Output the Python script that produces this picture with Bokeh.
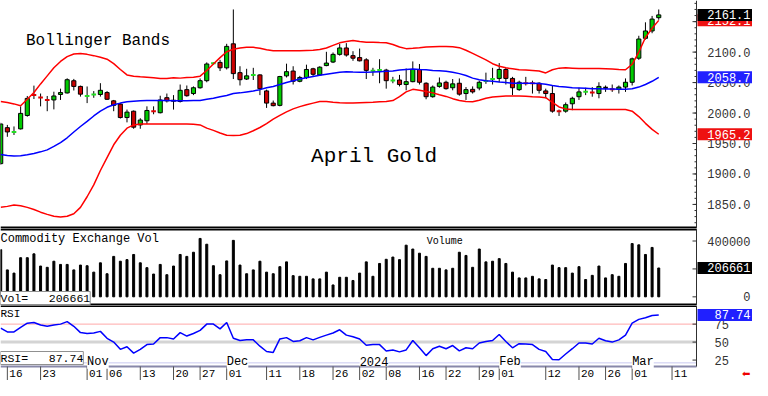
import pandas as pd
from bokeh.plotting import figure
from bokeh.layouts import column
from bokeh.models import Range1d, Label, ColumnDataSource
from bokeh.embed import file_html
from bokeh.resources import INLINE
from bokeh.core.properties import value

# ---------------- data ----------------
closed_days = ["2023-11-23", "2023-12-25", "2024-01-01", "2024-01-15", "2024-02-19"]
calendar = [d for d in pd.bdate_range("2023-10-13", "2024-03-15")
            if d.strftime("%Y-%m-%d") not in closed_days]
cal_idx = {d.strftime("%Y-%m-%d"): k for k, d in enumerate(calendar)}

opens = [1917, 1976, 1968, 1974, 1996, 2030, 2026, 2022, 2021.5, 2030.5,
         2033, 2053, 2043.7, 2027.5, 2030, 2030.5, 2033.6, 2020, 2014.7, 1992.6,
         2003, 1980.5, 1987.3, 2003.5, 2000.5, 2025.2, 2020, 2019, 2038.4, 2032,
         2041.5, 2053.1, 2081, 2083.1, 2074.2, 2113.6, 2066.3, 2055.8, 2062, 2062.6,
         2036.3, 2016.3, 2012.6, 2061, 2068.9, 2052.1, 2058.4, 2072.6, 2062.6, 2077.9,
         2083.7, 2096.3, 2106.8, 2094.2, 2091, 2087.3, 2068.9, 2070, 2070.5, 2053,
         2054.2, 2046.8, 2051.5, 2071.5, 2048.9, 2026.8, 2043.7, 2050.5, 2041.5, 2048.9,
         2032, 2038.9, 2041, 2052, 2055.5, 2056.8, 2071.5, 2056.8, 2038.4, 2049.5,
         2049.5, 2048.9, 2036.3, 2032, 2003.6, 2003.1, 2015.2, 2026.8, 2034.5, 2034,
         2032, 2041.5, 2039.5, 2038.9, 2042.6, 2050.5, 2090, 2122.6, 2134.7, 2156.5]
highs = [1984, 1980.5, 1978, 2011, 2028, 2045, 2032, 2028, 2035, 2040,
         2057, 2056, 2045, 2043.6, 2036, 2049, 2036, 2021.5, 2016.3, 2005.7,
         2004.2, 1991.5, 2011, 2011, 2028.4, 2032, 2029.4, 2046.8, 2045.2, 2043.7,
         2056.8, 2083.1, 2083, 2087.3, 2113.6, 2170, 2076.8, 2072.6, 2074.2, 2063.6,
         2038.4, 2020.5, 2061, 2081, 2076.8, 2061, 2079.4, 2074.2, 2076.8, 2100.5,
         2099.4, 2113.6, 2114.7, 2101.5, 2105.8, 2090, 2074.2, 2088.4, 2072.6, 2059.4,
         2062.6, 2073.1, 2084.7, 2080.5, 2050.5, 2045.2, 2058.4, 2053.1, 2055.8, 2056.8,
         2042.6, 2043.7, 2053.1, 2066.3, 2074.2, 2082, 2074.2, 2059.4, 2053.1, 2059.4,
         2053.1, 2050.5, 2040, 2045.2, 2005.7, 2017.3, 2026.8, 2041.5, 2041.5, 2042.6,
         2050.5, 2045.2, 2046.8, 2045.2, 2056.8, 2091, 2126.8, 2148.9, 2159.4, 2170]
lows = [1915, 1961, 1964, 1973, 1994, 2023, 2011, 2003, 2006, 2021.5,
        2032, 2037, 2027, 2016.3, 2025, 2027, 2021.5, 2003, 1991, 1984.7,
        1974.2, 1974.2, 1982, 1998, 1999.4, 2017.3, 2005.7, 2017.3, 2026.8, 2029.4,
        2040, 2050.5, 2080, 2068.9, 2071.5, 2055.8, 2045.2, 2054.2, 2054.2, 2029.4,
        2008.4, 2011, 2011, 2058.4, 2046.8, 2050.5, 2055.8, 2061, 2061, 2076.8,
        2082, 2094.2, 2092.6, 2085.7, 2084.7, 2055.8, 2061, 2048.9, 2040, 2048.9,
        2043.7, 2037.3, 2050.5, 2046.8, 2022.6, 2025.2, 2041.5, 2038.4, 2037.3, 2028.4,
        2021.5, 2032, 2037.3, 2047.9, 2046.8, 2050.5, 2046.8, 2029.4, 2036.3, 2045.2,
        2032, 2032, 2024.2, 2000.5, 1995.2, 2000.5, 2004.7, 2021.5, 2029.4, 2026.8,
        2024.2, 2034.7, 2034.7, 2032, 2034.7, 2045.2, 2087.3, 2120.5, 2131, 2153.1]
closes = [1982, 1969, 1969, 1999.4, 2024, 2029.5, 2025.3, 2021.3, 2028, 2033.6,
          2054.7, 2043.7, 2031, 2028, 2030.5, 2037.3, 2022.6, 2012.6, 1992.6, 2001.5,
          1976.8, 1988.5, 2004.2, 2003, 2021.5, 2020, 2020, 2037.3, 2028.4, 2041.5,
          2053.1, 2080.5, 2081.8, 2074.2, 2109.4, 2064.7, 2054.7, 2061, 2062.5, 2040,
          2016.3, 2012.1, 2059.9, 2067.9, 2052.1, 2058.4, 2071.5, 2063.6, 2075.2, 2082,
          2096.3, 2106.8, 2095.2, 2090, 2085.7, 2070, 2069.4, 2070.5, 2053.1, 2053.4,
          2046.8, 2051.5, 2071.5, 2050.5, 2026.8, 2042.6, 2049.4, 2040, 2047.9, 2031,
          2038.4, 2034.7, 2050.5, 2052.4, 2055.9, 2071.5, 2056.8, 2041.5, 2050.5, 2049,
          2049, 2037.3, 2032, 2003.1, 2003.1, 2013.7, 2024.2, 2034.7, 2034.9, 2033.6,
          2043.7, 2041.5, 2039, 2042.6, 2050.5, 2088.9, 2121.5, 2134.7, 2154.2, 2161.1]
upper_band = [2018.9, 2017.3, 2015, 2012, 2022.5, 2033.6, 2047.8, 2061, 2074.2, 2084.7,
              2092.6, 2096.8, 2097.9, 2096.3, 2094.2, 2091.5, 2088.4, 2081, 2071.5, 2062.6,
              2060.5, 2059.5, 2058.9, 2057.9, 2056.8, 2056.8, 2057.9, 2057.3, 2058.4, 2058.9,
              2060.5, 2069.9, 2080.5, 2091, 2100.5, 2104.7, 2106.8, 2107.8, 2107.8, 2106.3,
              2103.7, 2102.1, 2102.1, 2102.1, 2102.1, 2102.1, 2102.6, 2103.1, 2104.2, 2106.8,
              2111, 2115.2, 2117.3, 2118.9, 2117.3, 2116.3, 2116.3, 2115.7, 2115.2, 2112.6,
              2108.4, 2105.7, 2106.3, 2107.3, 2108.4, 2108.9, 2109.4, 2109.4, 2108.9, 2107.3,
              2103.1, 2097.9, 2092.6, 2087.3, 2081, 2076.8, 2074.2, 2072.6, 2071, 2070.5,
              2069.9, 2068.9, 2065.8, 2071, 2073.7, 2074.2, 2073.7, 2073.1, 2073.1, 2073.1,
              2073.1, 2072.6, 2072.1, 2071.5, 2071, 2080, 2100, 2124, 2139, 2152.1]
middle_band = [1932, 1930.5, 1929.4, 1930, 1931.6, 1933.6, 1936.3, 1939.5, 1945.2, 1951.5,
               1959.4, 1968.9, 1977.9, 1986.3, 1995.2, 2003.1, 2009.4, 2013.7, 2016.3, 2018.4,
               2019.4, 2020, 2020.5, 2020.5, 2020.5, 2020.5, 2020.3, 2020, 2020, 2020.5,
               2020.5, 2022.6, 2024.2, 2026.8, 2028.9, 2032, 2033.1, 2034.7, 2036.3, 2038.4,
               2041.5, 2043.7, 2046.8, 2050, 2053.1, 2055.7, 2057.9, 2060, 2062, 2063.6,
               2065.2, 2066.8, 2067.9, 2067.4, 2067, 2067, 2067.4, 2067.9, 2068.4, 2068.9,
               2070.5, 2071.5, 2072.1, 2071.5, 2071, 2069.9, 2069.4, 2068.4, 2066.8, 2064.7,
               2061.5, 2057.3, 2054.7, 2053.1, 2052.1, 2051, 2050, 2048.9, 2048.9, 2048.9,
               2048.7, 2048.4, 2047.3, 2045.2, 2043.7, 2042.6, 2041.5, 2041, 2040.5, 2039.9,
               2039.9, 2039.4, 2039.4, 2038.9, 2038.9, 2039.9, 2042.6, 2046.8, 2052.1, 2058.7]
lower_band = [1845.2, 1846.8, 1848.9, 1847.9, 1845.2, 1841.6, 1837.3, 1833.7, 1830.5, 1829.4,
              1830.5, 1834.7, 1845.2, 1862.6, 1882, 1905.7, 1926.8, 1947.9, 1963.6, 1975.2,
              1980.5, 1982.1, 1982.1, 1982.1, 1982.1, 1982.1, 1982.1, 1982.1, 1982.1, 1981.6,
              1980.5, 1975.2, 1971.5, 1967.3, 1963.6, 1963.1, 1963.6, 1966.3, 1971, 1976.3,
              1982.6, 1990, 1996.3, 2002, 2006.8, 2010.5, 2013.7, 2016.3, 2018.9, 2018.9,
              2017.8, 2016.8, 2016.3, 2016.3, 2016.8, 2017.3, 2017.8, 2018.4, 2018.9, 2020.5,
              2026.8, 2034.7, 2038.9, 2037.3, 2035.2, 2033.1, 2030, 2027.3, 2023.6, 2020.5,
              2018.9, 2018.4, 2021, 2024.2, 2026.3, 2027.3, 2027.9, 2027.9, 2027.9, 2027.4,
              2026.8, 2026.3, 2025.2, 2017.3, 2010, 2006.8, 2005.7, 2005.7, 2005.7, 2005.7,
              2005.7, 2005.7, 2005.7, 2005.7, 2005.7, 2003.1, 1994.2, 1983.1, 1973.1, 1965.2]
volumes = [337900, 193100, 170100, 280500, 280500, 308000, 220700, 211500, 255200, 232200,
           232200, 193100, 227600, 223000, 177000, 243700, 165500, 289700, 255200, 266700,
           303500, 243700, 209200, 163200, 232200, 158600, 220700, 303500, 289700, 319500,
           418400, 377000, 223000, 158600, 257500, 404600, 227600, 165500, 193100, 255200,
           177000, 165500, 216100, 250600, 151700, 147100, 147100, 128700, 128700, 177000,
           85100, 140200, 140200, 117200, 170100, 250600, 147100, 239100, 269000, 285100,
           266700, 370100, 342500, 312700, 289700, 204600, 204600, 193100, 204600, 319500,
           296600, 211500, 342500, 250600, 255200, 273600, 239100, 177000, 135600, 135600,
           147100, 128700, 124100, 227600, 209200, 209200, 170100, 216100, 124100, 154000,
           220700, 135600, 158600, 147100, 239100, 381600, 372400, 303500, 354000, 206661]
rsi = [69.3, 64.1, 64.1, 70.6, 76.3, 77.2, 73.7, 72, 73.7, 75,
       78.5, 72, 63.2, 61.9, 62.7, 64.9, 55.3, 50, 39.9, 43.5,
       34.7, 39.9, 46.5, 47.4, 56.2, 56.2, 54.4, 63.2, 58.4, 61.9,
       66.3, 75, 75, 68.4, 77.2, 55.3, 52.2, 53.1, 53.1, 44.3,
       36.9, 35.6, 54.4, 56.2, 50.9, 51.8, 56.2, 53.1, 56.6, 59.7,
       62.7, 67.1, 59.7, 57.5, 54.4, 45.6, 46.5, 46.5, 37.7, 39.1,
       36.4, 39.1, 52.2, 42.1, 31.2, 40.8, 44.3, 40.8, 45.2, 37.7,
       42.1, 40.8, 48.7, 50.9, 52.2, 60.6, 50.9, 42.1, 47.8, 47.4,
       46.5, 39.9, 36.9, 25.9, 25.5, 33.4, 40.8, 48.7, 48.7, 47.4,
       55.3, 51.8, 50, 53.1, 59.7, 76.3, 81.6, 83.8, 86.9, 87.74]

day_ticks = ["2023-10-16", "2023-10-23", "2023-11-01", "2023-11-06", "2023-11-13",
             "2023-11-20", "2023-11-27", "2023-12-01", "2023-12-11", "2023-12-18",
             "2023-12-26", "2024-01-02", "2024-01-08", "2024-01-16", "2024-01-22",
             "2024-01-29", "2024-02-01", "2024-02-12", "2024-02-20", "2024-02-26",
             "2024-03-01", "2024-03-11"]
month_ticks = ["2023-11-01", "2023-12-01", "2024-01-02", "2024-02-01", "2024-03-01"]
month_labels = ["Nov", "Dec", "2024", "Feb", "Mar"]
price_ticks = [1850, 1900, 1950, 2000, 2050, 2100, 2150]
price_labels = ["%.1f" % t for t in price_ticks]
price_minor = list(range(1820, 2190, 10))
vol_ticks = [0, 200000, 400000]
vol_labels = ["0", "200000", "400000"]
rsi_ticks = [25, 50, 75]
rsi_labels = ["25", "50", "75"]
rsi_levels = [75, 50]

# ---------------- layout constants ----------------
FONT = "Liberation Mono"
W = 752
X0, X1 = -0.03, 104.68            # data range of the plotting area
PLOT_W = 696                       # pixels of the plotting area
XF = X0 + (X1 - X0) * W / PLOT_W   # data x at the right edge of the canvas
PX = (X1 - X0) / PLOT_W            # data units per pixel
P_LO, P_HI = 1810.5, 2184.7
V_LO, V_HI = -62069, 489655
R_LO, R_HI = 16.05, 100.9
RSI_H, DATE_H = 61, 14             # pixel heights of RSI panel and date row
R_BOTTOM = R_LO - (R_HI - R_LO) * DATE_H / RSI_H
MONTH_LINE = 21.1
AXIS_COL = "#303030"

xr = Range1d(X0, XF)


def make_fig(h, yr):
    p = figure(width=W, height=h, x_range=xr, y_range=yr, output_backend="svg",
               toolbar_location=None, x_axis_location=None, y_axis_location=None,
               min_border_left=0, min_border_right=0, min_border_top=0,
               min_border_bottom=0)
    p.grid.visible = False
    p.outline_line_color = None
    p.background_fill_color = "white"
    p.border_fill_color = "white"
    return p


def hline(p, y, color, width):
    p.segment(x0=[X0], y0=[y], x1=[X1], y1=[y], line_color=color, line_width=width)


def right_axis(p, lo, hi, ticks, labels, minor=(), align="right", offset=-2):
    p.segment(x0=[X1], y0=[lo], x1=[X1], y1=[hi], line_color=AXIS_COL, line_width=1)
    p.segment(x0=[X1 - 4 * PX] * len(ticks), y0=ticks, x1=[X1] * len(ticks), y1=ticks,
              line_color=AXIS_COL, line_width=1)
    if minor:
        p.segment(x0=[X1 - 2 * PX] * len(minor), y0=list(minor), x1=[X1] * len(minor),
                  y1=list(minor), line_color=AXIS_COL, line_width=1)
    xpos = XF if align == "right" else X1
    p.text(x=[xpos] * len(ticks), y=ticks, text=labels, x_offset=offset,
           text_font=value(FONT), text_font_size="12px", text_color="#333333",
           text_baseline="middle", text_align=align)


def value_box(p, y, txt, bg):
    p.rect(x=[(X1 + PX + XF) / 2], y=[y], width=XF - X1 - PX, height=12,
           height_units="screen", fill_color=bg, line_color=None)
    p.text(x=[XF], y=[y], text=[txt], x_offset=-2, text_font=value(FONT),
           text_font_size="12px", text_color="white", text_baseline="middle",
           text_align="right")


n = len(closes)
xs = list(range(n))

# ---------------- price panel ----------------
p1 = make_fig(228, Range1d(P_LO, P_HI))

body = dict(x=[], top=[], bottom=[], color=[])
doji = dict(x0=[], x1=[], y=[], color=[])
for i, (o, c) in enumerate(zip(opens, closes)):
    if abs(c - o) < 1.5:
        col = "#22DD22" if c > o else ("#E00000" if c < o else "#000000")
        doji["x0"].append(i - 0.35)
        doji["x1"].append(i + 0.35)
        doji["y"].append(c)
        doji["color"].append(col)
    else:
        body["x"].append(i)
        body["top"].append(max(o, c))
        body["bottom"].append(min(o, c))
        body["color"].append("#00CC00" if c > o else "#CC0000")

p1.segment(x0=xs, y0=lows, x1=xs, y1=highs, line_color="black", line_width=1)
p1.vbar(x="x", top="top", bottom="bottom", width=0.62, fill_color="color",
        line_color="black", line_width=1, source=ColumnDataSource(body))
p1.segment(x0="x0", y0="y", x1="x1", y1="y", line_color="color", line_width=2,
           source=ColumnDataSource(doji))
p1.line(xs, upper_band, line_color="#FF0000", line_width=1.5)
p1.line(xs, lower_band, line_color="#FF0000", line_width=1.5)
p1.line(xs, middle_band, line_color="#0000FF", line_width=1.5)
hline(p1, P_LO, "black", 4)
right_axis(p1, P_LO, P_HI, price_ticks, price_labels, minor=price_minor)

p1.add_layout(Label(x=3.8, y=2118.4, text="Bollinger Bands", text_font=FONT,
                    text_font_size="16px", text_color="black", text_baseline="middle"))
p1.add_layout(Label(x=46.7, y=1928.9, text="April Gold", text_font=FONT,
                    text_font_size="21px", text_color="black", text_baseline="middle"))

value_box(p1, upper_band[-1], "%.1f" % upper_band[-1], "#EE1111")
value_box(p1, closes[-1], "%.1f" % closes[-1], "#000000")
value_box(p1, middle_band[-1], "%.1f" % middle_band[-1], "#2020FF")
value_box(p1, lower_band[-1], "%.1f" % lower_band[-1], "#EE1111")

# ---------------- volume panel ----------------
p2 = make_fig(77, Range1d(V_LO, V_HI))
p2.vbar(x=xs, top=volumes, bottom=0, width=0.3, color="black")
hline(p2, V_HI, "black", 4)
hline(p2, V_LO, "black", 4)
right_axis(p2, V_LO, V_HI, vol_ticks, vol_labels)
p2.add_layout(Label(x=X0, y=V_HI, y_offset=-3, text="Commodity Exchange Vol", text_font=FONT,
                    text_font_size="12px", text_color="black", text_baseline="top"))
p2.add_layout(Label(x=64.1, y=393100, text="Volume", text_font=FONT,
                    text_font_size="10px", text_color="black", text_baseline="middle"))
p2.add_layout(Label(x=X0, y=V_LO, y_offset=1, text="Vol=\u00a0\u00a0\u00a0" + str(volumes[-1]),
                    text_font=FONT, text_font_size="11.5px", text_color="black",
                    text_baseline="bottom", background_fill_color="white",
                    border_line_color="#909090"))
value_box(p2, volumes[-1], str(volumes[-1]), "#000000")

# ---------------- RSI panel + date row ----------------
p3 = make_fig(RSI_H + DATE_H, Range1d(R_BOTTOM, R_HI))
hline(p3, rsi_levels[0], "#FFA8A8", 1)
hline(p3, rsi_levels[1], "#D4D4D4", 3)
hline(p3, MONTH_LINE, "#C8C8F0", 1)
p3.line(xs, rsi, line_color="#0000FF", line_width=1.5)
hline(p3, R_HI, "black", 3)
hline(p3, R_LO, "#8888AA", 2)
right_axis(p3, R_LO, R_HI, rsi_ticks, rsi_labels, align="left", offset=18)
for m, lab in zip(month_ticks, month_labels):
    p3.add_layout(Label(x=cal_idx[m], y=MONTH_LINE, y_offset=1, text=lab, text_font=FONT,
                        text_font_size="12px", text_color="black",
                        text_baseline="middle", background_fill_color="white"))
p3.add_layout(Label(x=X0, y=R_HI, y_offset=-2, text="RSI", text_font=FONT,
                    text_font_size="11px", text_color="black", text_baseline="top"))
p3.add_layout(Label(x=X0, y=R_LO, y_offset=2, text="RSI=\u00a0\u00a0\u00a0" + "%.2f" % rsi[-1],
                    text_font=FONT, text_font_size="11.5px", text_color="black",
                    text_baseline="bottom", background_fill_color="white",
                    border_line_color="#909090"))
value_box(p3, rsi[-1], "%.2f" % rsi[-1], "#2020FF")

tx = [cal_idx[d] for d in day_ticks]
tl = [d[-2:] for d in day_ticks]
mid = (R_BOTTOM + R_LO) / 2
p3.segment(x0=tx, y0=R_BOTTOM, x1=tx, y1=R_LO, line_color="#505050", line_width=1)
p3.text(x=tx, y=mid, text=tl, x_offset=2, text_font=value(FONT), text_font_size="11px",
        text_baseline="middle", text_align="left", text_color="black")
p3.text(x=[XF], y=[mid], text=["\u2b05"], x_offset=-2, text_font=value("DejaVu Sans"),
        text_font_size="10px", text_color="#EE0000", text_baseline="middle",
        text_align="right")

layout = column(p1, p2, p3, spacing=0)
open("out.html", "w").write(file_html(layout, INLINE))
